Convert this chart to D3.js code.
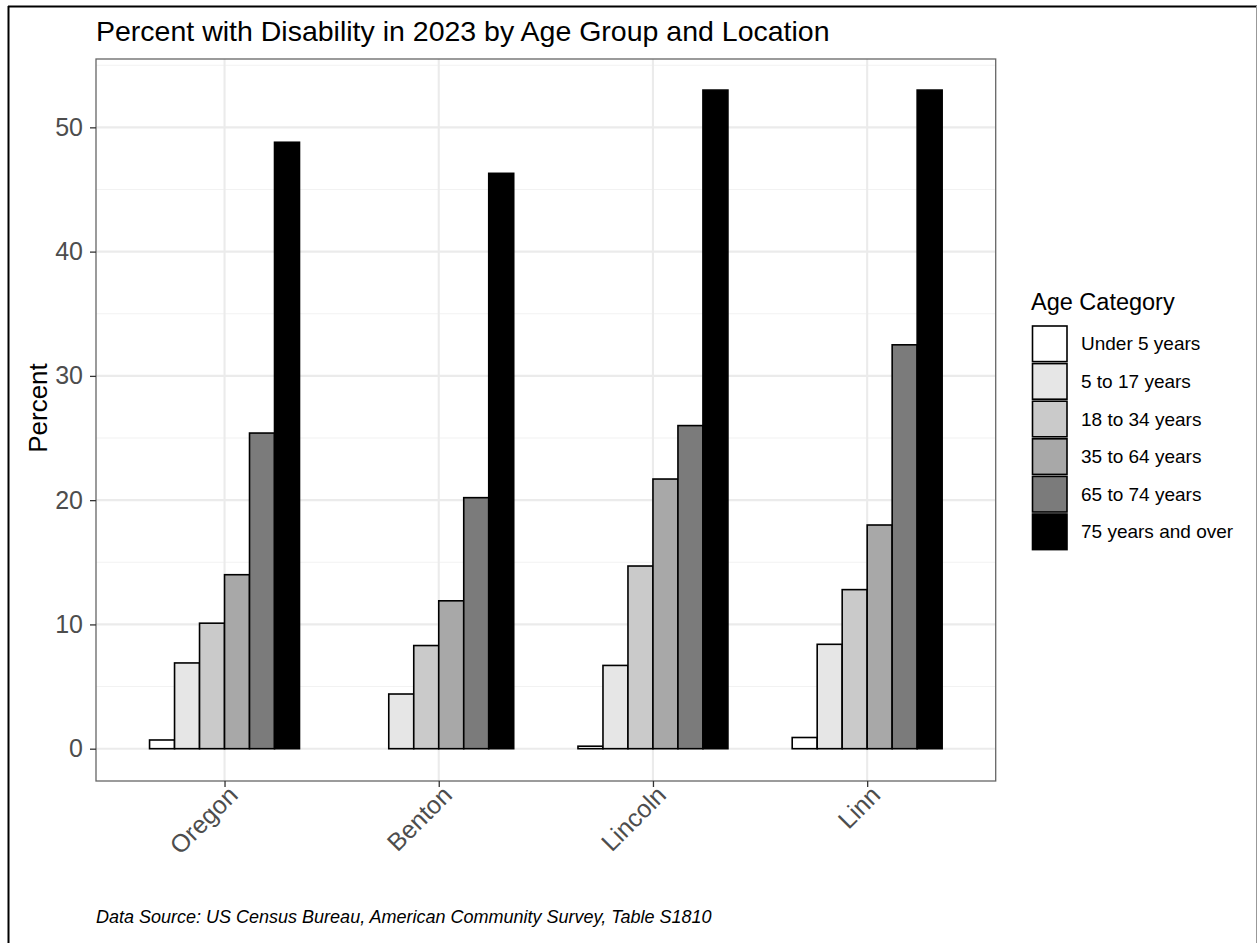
<!DOCTYPE html>
<html>
<head>
<meta charset="utf-8">
<script src="https://cdn.jsdelivr.net/npm/d3@7"></script>
<style>
  html, body { margin: 0; padding: 0; background: #fff; }
  svg { display: block; font-family: "Liberation Sans", Arial, sans-serif; }
</style>
</head>
<body>
<svg id="chart" width="1257" height="943"></svg>
<script>
// ---- data ----
const locations = ["Oregon", "Benton", "Lincoln", "Linn"];
const ageGroups = ["Under 5 years", "5 to 17 years", "18 to 34 years", "35 to 64 years", "65 to 74 years", "75 years and over"];
const under5   = [0.7, 0.0, 0.2, 0.9];
const age5to17 = [6.9, 4.4, 6.7, 8.4];
const age18to34 = [10.1, 8.3, 14.7, 12.8];
const age35to64 = [14.0, 11.9, 21.7, 18.0];
const age65to74 = [25.4, 20.2, 26.0, 32.5];
const age75plus = [48.8, 46.3, 53.0, 53.0];
const yTicks = [0, 10, 20, 30, 40, 50];
const yMinorTicks = [5, 15, 25, 35, 45, 55];
const fills = ["#FFFFFF", "#E6E6E6", "#CACACA", "#A8A8A8", "#7B7B7B", "#000000"];
const titleText = "Percent with Disability in 2023 by Age Group and Location";
const yTitle = "Percent";
const legendTitle = "Age Category";
const captionText = "Data Source: US Census Bureau, American Community Survey, Table S1810";

const seriesValues = [under5, age5to17, age18to34, age35to64, age65to74, age75plus];
const rows = [];
locations.forEach((loc, i) => {
  ageGroups.forEach((ag, j) => rows.push({loc, ag, j, v: seriesValues[j][i]}));
});

// ---- layout ----
const svg = d3.select("#chart");
const panel = {left: 96, top: 59, right: 995.7, bottom: 781};

svg.append("rect").attr("x", 0).attr("y", 0).attr("width", 1257).attr("height", 943).attr("fill", "#fff");

// outer frame
svg.append("line").attr("x1", 8.5).attr("x2", 8.5).attr("y1", 6).attr("y2", 943).attr("stroke", "#000").attr("stroke-width", 2);
svg.append("line").attr("x1", 8).attr("x2", 1257).attr("y1", 6.5).attr("y2", 6.5).attr("stroke", "#000").attr("stroke-width", 2);
svg.append("line").attr("x1", 1256.5).attr("x2", 1256.5).attr("y1", 6).attr("y2", 943).attr("stroke", "#999").attr("stroke-width", 1);

const x = d3.scalePoint().domain(locations).range([panel.left, panel.right]).padding(0.6);
const step = x.step();
const inner = d3.scaleBand().domain(ageGroups).range([-0.35 * step, 0.35 * step]).padding(0);
const y = d3.scaleLinear().domain([-2.6, 55.5]).range([panel.bottom, panel.top]);

// grid
const g = svg.append("g");
g.selectAll(".minor").data(yMinorTicks.filter(t => y(t) > panel.top)).enter().append("line")
  .attr("x1", panel.left).attr("x2", panel.right)
  .attr("y1", d => y(d)).attr("y2", d => y(d))
  .attr("stroke", "#F2F2F2").attr("stroke-width", 1.1);
g.selectAll(".major").data(yTicks).enter().append("line")
  .attr("x1", panel.left).attr("x2", panel.right)
  .attr("y1", d => y(d)).attr("y2", d => y(d))
  .attr("stroke", "#EBEBEB").attr("stroke-width", 2.1);
g.selectAll(".vmajor").data(locations).enter().append("line")
  .attr("x1", d => x(d)).attr("x2", d => x(d))
  .attr("y1", panel.top).attr("y2", panel.bottom)
  .attr("stroke", "#EBEBEB").attr("stroke-width", 2.1);

// bars
svg.append("g").selectAll("rect").data(rows).enter().append("rect")
  .attr("x", d => x(d.loc) + inner(d.ag))
  .attr("width", inner.bandwidth())
  .attr("y", d => y(d.v))
  .attr("height", d => y(0) - y(d.v))
  .attr("fill", d => fills[d.j])
  .attr("stroke", "#000")
  .attr("stroke-width", 1.6);

// panel border
svg.append("rect").attr("x", panel.left).attr("y", panel.top)
  .attr("width", panel.right - panel.left).attr("height", panel.bottom - panel.top)
  .attr("fill", "none").attr("stroke", "#666").attr("stroke-width", 1.3);

// y axis
const yAxis = svg.append("g").attr("transform", `translate(${panel.left},0)`)
  .call(d3.axisLeft(y).tickValues(yTicks).tickSize(6).tickPadding(7).tickFormat(d3.format("d")));
yAxis.select(".domain").remove();
yAxis.selectAll(".tick line").attr("stroke", "#333").attr("stroke-width", 1.3);
yAxis.selectAll(".tick text").attr("fill", "#4D4D4D").style("font-size", "25px")
  .style("font-family", "Liberation Sans, Arial, sans-serif");

// x axis
const xAxis = svg.append("g").attr("transform", `translate(0,${panel.bottom})`)
  .call(d3.axisBottom(x).tickSize(6).tickFormat(() => ""));
xAxis.select(".domain").remove();
xAxis.selectAll(".tick line").attr("stroke", "#333").attr("stroke-width", 1.3);
svg.append("g").selectAll("text").data(locations).enter().append("text")
  .attr("transform", d => `translate(${x(d) + 2},${panel.bottom + 3}) rotate(-45)`)
  .attr("text-anchor", "end")
  .attr("dy", "0.72em")
  .attr("fill", "#4D4D4D")
  .style("font-size", "25px")
  .text(d => d);

// y title
svg.append("text")
  .attr("transform", `translate(47,408) rotate(-90)`)
  .attr("text-anchor", "middle")
  .attr("fill", "#000")
  .style("font-size", "26px")
  .text(yTitle);

// title
svg.append("text").attr("x", 96).attr("y", 41).attr("fill", "#000")
  .style("font-size", "28.5px").text(titleText);

// caption
svg.append("text").attr("x", 96).attr("y", 923).attr("fill", "#000")
  .style("font-size", "18px").style("font-style", "italic").text(captionText);

// legend
const leg = svg.append("g").attr("transform", "translate(1031,0)");
leg.append("text").attr("x", 0).attr("y", 310).attr("fill", "#000")
  .style("font-size", "23.5px").text(legendTitle);
const keyH = 37.6;
const keyTop = 325;
const items = leg.selectAll(".item").data(ageGroups).enter().append("g")
  .attr("transform", (d, i) => `translate(0,${keyTop + i * keyH})`);
items.append("rect").attr("x", 1.5).attr("y", 1).attr("width", 34.5).attr("height", keyH - 2)
  .attr("fill", (d, i) => fills[i]).attr("stroke", "#000").attr("stroke-width", 1.6);
items.append("text").attr("x", 50).attr("y", keyH / 2).attr("dy", "0.35em")
  .attr("fill", "#000").style("font-size", "19px").text(d => d);
</script>
</body>
</html>
